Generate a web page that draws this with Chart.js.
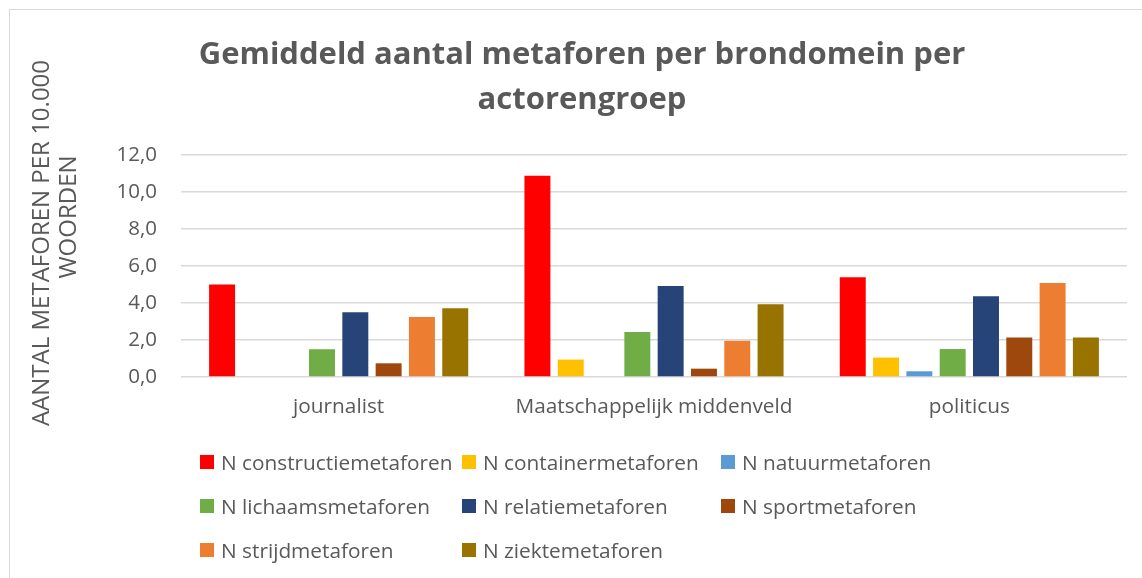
<!DOCTYPE html>
<html lang="nl">
<head>
<meta charset="utf-8">
<script src="https://cdn.jsdelivr.net/npm/chart.js@4"></script>
<style>
  html, body { margin: 0; padding: 0; background: #fff; }
  #wrap { position: relative; width: 1142px; height: 578px; overflow: hidden; }
  #frame { position: absolute; left: 9px; top: 9px; width: 1200px; height: 600px;
           border-left: 1px solid #d9d9d9; border-top: 1px solid #d9d9d9; }
  #legend { position: absolute; left: 200px; top: 440px; display: grid;
            grid-template-columns: 262px 259px auto; grid-auto-rows: 44px;
            font-family: "Open Sans", sans-serif; font-size: 20.8px; color: #595959; }
  #legend div { display: flex; align-items: center; white-space: nowrap; }
  #legend span { display: inline-block; width: 14px; height: 14px; margin-right: 7px; }
</style>
</head>
<body>
<div id="wrap">
  <div id="frame"></div>
  <canvas id="metaforenChart" width="1142" height="578"></canvas>
  <div id="legend"></div>
</div>
<script>
const groepen = ['journalist', 'Maatschappelijk middenveld', 'politicus'];

const constructie = [5.0, 10.88, 5.39];
const container   = [0, 0.94, 1.05];
const natuur      = [0, 0, 0.31];
const lichaams    = [1.5, 2.43, 1.51];
const relatie     = [3.5, 4.92, 4.36];
const sport       = [0.74, 0.45, 2.14];
const strijd      = [3.24, 1.96, 5.08];
const ziekte      = [3.72, 3.93, 2.14];

const yTicks = [0, 2, 4, 6, 8, 10, 12];

const grey = '#595959';

const datasets = [
  { label: 'N constructiemetaforen', data: constructie, backgroundColor: '#ff0000' },
  { label: 'N containermetaforen', data: container, backgroundColor: '#ffc000' },
  { label: 'N natuurmetaforen', data: natuur, backgroundColor: '#5b9bd5' },
  { label: 'N lichaamsmetaforen', data: lichaams, backgroundColor: '#70ad47' },
  { label: 'N relatiemetaforen', data: relatie, backgroundColor: '#264478' },
  { label: 'N sportmetaforen', data: sport, backgroundColor: '#9e480e' },
  { label: 'N strijdmetaforen', data: strijd, backgroundColor: '#ed7d31' },
  { label: 'N ziektemetaforen', data: ziekte, backgroundColor: '#997300' }
];

// y-as titel staat niet gecentreerd, dus zelf tekenen
function rotatedText(c, text, x, y) {
  c.save();
  c.fillStyle = grey;
  c.font = '24px "Open Sans"';
  c.textAlign = 'center';
  c.textBaseline = 'middle';
  c.translate(x, y);
  c.rotate(-Math.PI / 2);
  c.fillText(text, 0, 0);
  c.restore();
}

const yTitlePlugin = {
  id: 'yTitle',
  afterDraw(chart) {
    rotatedText(chart.ctx, 'AANTAL METAFOREN PER 10.000', 42, 243);
    rotatedText(chart.ctx, 'WOORDEN', 69, 217);
  }
};

const ctx = document.getElementById('metaforenChart').getContext('2d');
const metaforenChart = new Chart(ctx, {
  type: 'bar',
  data: { labels: groepen, datasets: datasets },
  options: {
    responsive: false,
    animation: false,
    categoryPercentage: 0.845,
    barPercentage: 0.78,
    layout: { padding: { left: 37, right: 15, top: 0, bottom: 159 } },
    scales: {
      x: {
        grid: { display: false, drawTicks: false },
        border: { display: false },
        ticks: { color: grey, font: { family: 'Open Sans', size: 20.8 }, padding: 18 },
        afterFit: (s) => { s.height = 42; }
      },
      y: {
        min: 0,
        max: 12,
        afterBuildTicks: (s) => { s.ticks = yTicks.map(v => ({ value: v })); },
        grid: { color: '#d9d9d9', lineWidth: 1.5, drawTicks: false },
        border: { display: false },
        ticks: {
          color: grey,
          font: { family: 'Open Sans', size: 20.5 },
          padding: 24,
          callback: (v) => v.toFixed(1).replace('.', ',')
        },
        afterFit: (s) => { s.width = 144; }
      }
    },
    plugins: {
      legend: { display: false },
      tooltip: { enabled: false },
      title: {
        display: true,
        text: ['Gemiddeld aantal metaforen per brondomein per', 'actorengroep'],
        color: grey,
        font: { family: 'Open Sans', size: 31, weight: 'bold', lineHeight: 1.45 },
        padding: { top: 33, bottom: 32 }
      }
    }
  },
  plugins: [yTitlePlugin]
});

const legendEl = document.getElementById('legend');
datasets.forEach(ds => {
  const item = document.createElement('div');
  const box = document.createElement('span');
  box.style.background = ds.backgroundColor;
  item.appendChild(box);
  item.appendChild(document.createTextNode(ds.label));
  legendEl.appendChild(item);
});
</script>
</body>
</html>
